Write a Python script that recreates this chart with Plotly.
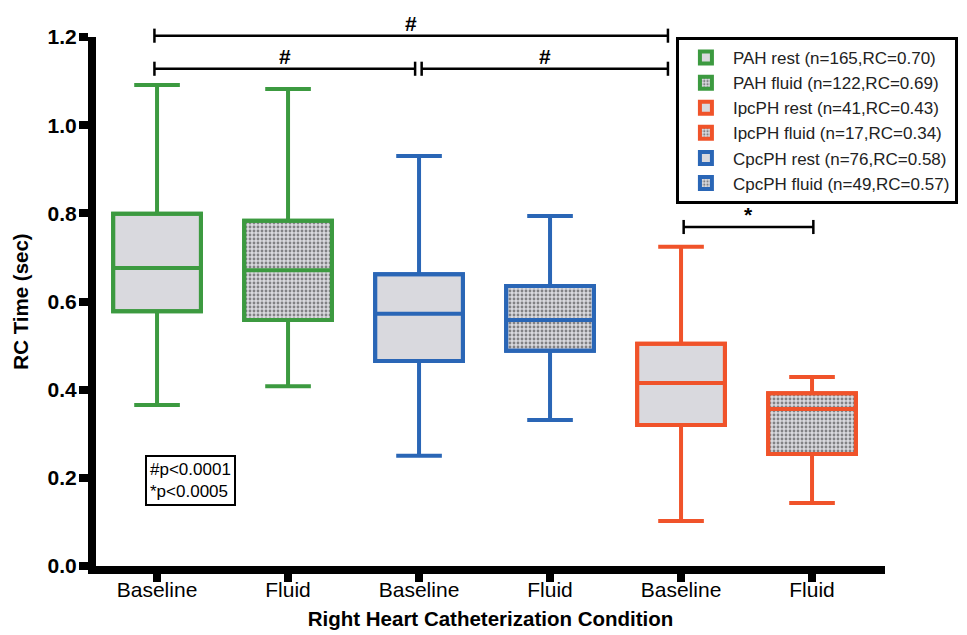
import plotly.graph_objects as go

# ---- data (legend order) ----
names = ["PAH rest (n=165,RC=0.70)", "PAH fluid (n=122,RC=0.69)",
         "IpcPH rest (n=41,RC=0.43)", "IpcPH fluid (n=17,RC=0.34)",
         "CpcPH rest (n=76,RC=0.58)", "CpcPH fluid (n=49,RC=0.57)"]
positions = [0, 1, 4, 5, 2, 3]
lower = [0.365, 0.408, 0.102, 0.143, 0.250, 0.331]
q1 = [0.578, 0.558, 0.320, 0.254, 0.465, 0.488]
median = [0.676, 0.671, 0.415, 0.356, 0.572, 0.558]
q3 = [0.799, 0.783, 0.504, 0.392, 0.662, 0.635]
upper = [1.091, 1.082, 0.724, 0.429, 0.930, 0.794]
dotted = [False, True, False, True, False, True]
colors = ["#3c9a40", "#3c9a40", "#f0532a", "#f0532a", "#2a66b6", "#2a66b6"]

tick_positions = [0, 1, 2, 3, 4, 5]
tick_labels = ["Baseline", "Fluid", "Baseline", "Fluid", "Baseline", "Fluid"]
y_ticks = [0.0, 0.2, 0.4, 0.6, 0.8, 1.0, 1.2]

# significance brackets: (x_start, x_end, y, label)
brackets = [(-0.02, 3.9, 1.203, "#"),
            (-0.02, 1.97, 1.128, "#"),
            (2.02, 3.9, 1.128, "#"),
            (4.02, 5.01, 0.769, "*")]

Y_MAX = 1.2
BOX_W = 0.67
GRAY = "#d9d9de"
FONT = "Liberation Sans, Arial, sans-serif"

fig = go.Figure()
for i in range(len(names)):
    pattern = dict(shape=".", fgcolor="#2a2a2a", bgcolor=GRAY, size=4, solidity=0.4) if dotted[i] else dict(shape="")
    fig.add_trace(go.Bar(
        x=[positions[i]], base=[q1[i]], y=[q3[i] - q1[i]], width=BOX_W,
        name=names[i], marker=dict(color=GRAY, pattern=pattern,
                                   line=dict(color=colors[i], width=4)),
        showlegend=True, hoverinfo="skip"))
for i in range(len(names)):
    fig.add_trace(go.Box(
        x=[positions[i]], q1=[q1[i]], median=[median[i]], q3=[q3[i]],
        lowerfence=[lower[i]], upperfence=[upper[i]], width=BOX_W,
        line=dict(color=colors[i], width=4), fillcolor="rgba(0,0,0,0)",
        whiskerwidth=0.52, boxpoints=False, showlegend=False, name=names[i]))

cap = 0.016
for x0, x1, yv, lab in brackets:
    yp = yv / Y_MAX
    cp = cap / Y_MAX
    fig.add_shape(type="line", xref="x", yref="paper", x0=x0, x1=x1, y0=yp, y1=yp,
                  line=dict(color="black", width=2.5))
    for xe in (x0, x1):
        fig.add_shape(type="line", xref="x", yref="paper", x0=xe, x1=xe, y0=yp - cp, y1=yp + cp,
                      line=dict(color="black", width=2.5))
    fig.add_annotation(x=(x0 + x1) / 2, y=yp, xref="x", yref="paper", text="<b>" + lab + "</b>",
                       showarrow=False, yanchor="bottom", yshift=-1,
                       font=dict(size=21, color="black", family=FONT))

fig.add_annotation(xref="paper", yref="paper", x=0.062, y=0.21, xanchor="left", yanchor="top",
                   text="#p<0.0001<br>*p<0.0005", align="left", showarrow=False,
                   bordercolor="black", borderwidth=2, borderpad=3, bgcolor="white",
                   font=dict(size=17, color="black", family=FONT))

fig.update_layout(
    width=967, height=635,
    margin=dict(l=96, r=82, t=37, b=69, autoexpand=False),
    plot_bgcolor="white", paper_bgcolor="white",
    barmode="overlay", boxmode="overlay",
    font=dict(family=FONT, color="black"),
    legend=dict(x=0.735, y=1.0, xanchor="left", yanchor="top",
                bordercolor="black", borderwidth=3, bgcolor="white",
                font=dict(size=17, color="#222", family=FONT),
                tracegroupgap=0, itemwidth=44),
    xaxis=dict(range=[-0.466, 5.557], tickvals=tick_positions, ticktext=tick_labels,
               automargin=False,
               showline=True, linecolor="black", linewidth=8, ticks="outside",
               ticklen=8, tickwidth=8, tickcolor="black", showgrid=False, zeroline=False,
               ticklabelstandoff=-10,
               tickfont=dict(size=21, family=FONT, color="black"),
               title=dict(text="<b>Right Heart Catheterization Condition</b>", standoff=14,
                          font=dict(size=20.5, family=FONT, color="black"))),
    yaxis=dict(range=[0, Y_MAX], tickvals=y_ticks, ticktext=["<b>%.1f</b>" % v for v in y_ticks],
               automargin=False,
               showline=True, linecolor="black", linewidth=8, ticks="outside",
               ticklen=9, tickwidth=8, tickcolor="black", showgrid=False, zeroline=False,
               ticklabelstandoff=-2,
               tickfont=dict(size=21, color="black"),
               title=dict(text="<b>RC Time (sec)</b>", standoff=16,
                          font=dict(size=20.5, color="black"))),
)

fig.write_html("out.html", config={"displayModeBar": False},
               post_script="document.body.style.margin='0';document.body.style.padding='0';")
